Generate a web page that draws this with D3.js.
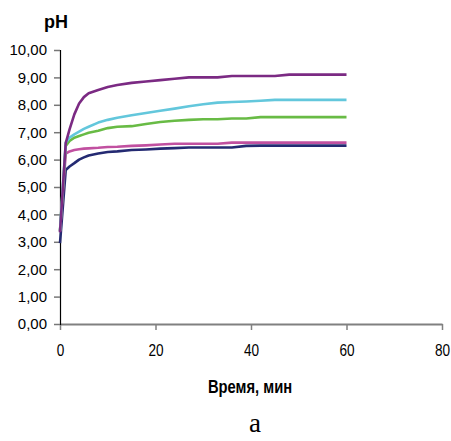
<!DOCTYPE html>
<html>
<head>
<meta charset="utf-8">
<script src="https://cdn.jsdelivr.net/npm/d3@7"></script>
<style>
    body { margin: 0; background: #fff; }
    .tick-y text { font-family: "Liberation Sans", Arial, sans-serif; font-size: 15px; fill: #000; }
    .tick-x text { font-family: "Liberation Sans", Arial, sans-serif; font-size: 17px; fill: #000; }
    .axis-title { font-family: "Liberation Sans", Arial, sans-serif; font-weight: bold; }
</style>
</head>
<body>
<div class="chart"></div>
<script>
/* Global Constants
============================================= */
const SVG_WIDTH = 451;
const SVG_HEIGHT = 441;

const textY = "pH";
const textX = "Время, мин";
const textCaption = "а";

// time, min
const TIME = [0, 1.2, 2, 3, 4, 5, 6, 8, 10, 12, 15, 18, 21, 24, 27, 30, 33, 36, 39, 42, 45, 48, 51, 54, 57, 60];

// pH values of each curve
const NAVY   = [2.95, 5.62, 5.75, 5.87, 6.0, 6.08, 6.15, 6.22, 6.28, 6.3, 6.35, 6.37, 6.4, 6.42, 6.44, 6.44, 6.44, 6.44, 6.5, 6.51, 6.51, 6.51, 6.51, 6.51, 6.51, 6.51];
const PINK   = [3.37, 6.22, 6.3, 6.35, 6.38, 6.4, 6.41, 6.43, 6.46, 6.47, 6.5, 6.52, 6.55, 6.58, 6.58, 6.58, 6.58, 6.62, 6.62, 6.62, 6.62, 6.62, 6.62, 6.62, 6.62, 6.62];
const GREEN  = [3.4, 6.5, 6.68, 6.8, 6.86, 6.92, 6.98, 7.05, 7.15, 7.2, 7.22, 7.3, 7.37, 7.42, 7.45, 7.47, 7.47, 7.5, 7.5, 7.55, 7.55, 7.55, 7.55, 7.55, 7.55, 7.55];
const CYAN   = [3.4, 6.62, 6.8, 6.92, 7.02, 7.12, 7.2, 7.35, 7.45, 7.53, 7.62, 7.7, 7.78, 7.86, 7.95, 8.02, 8.08, 8.1, 8.12, 8.15, 8.18, 8.18, 8.18, 8.18, 8.18, 8.18];
const PURPLE = [3.35, 6.6, 7.1, 7.65, 8.05, 8.28, 8.42, 8.54, 8.65, 8.72, 8.8, 8.85, 8.9, 8.95, 9.0, 9.0, 9.0, 9.05, 9.05, 9.05, 9.05, 9.1, 9.1, 9.1, 9.1, 9.1];

const SERIES = [NAVY, PINK, GREEN, CYAN, PURPLE];
const COLORS = ["#242a72", "#c150a0", "#68bb45", "#63c7dc", "#7b2a83"];

const X_TICKS = [0, 20, 40, 60, 80];
const Y_TICKS = [0, 1, 2, 3, 4, 5, 6, 7, 8, 9, 10];

/* Setup
============================================= */
var margin = {
    top: 50,
    bottom: 117,
    left: 60,
    right: 9
};

var width = SVG_WIDTH - margin.left - margin.right;
var height = SVG_HEIGHT - margin.top - margin.bottom;

var svg = d3.select(".chart")
    .append("svg")
    .attr("width", SVG_WIDTH)
    .attr("height", SVG_HEIGHT);

var chart = svg.append("g")
    .attr("transform", `translate(${margin.left}, ${margin.top})`);

var xLinearScale = d3.scaleLinear().domain([0, 80]).range([0, width]);
var yLinearScale = d3.scaleLinear().domain([0, 10]).range([height, 0]);

var commaFormat = d3.formatLocale({ decimal: ",", thousands: " ", grouping: [3], currency: ["", ""] }).format(".2f");

// y axis
var yAxis = chart.append("g")
    .attr("class", "tick-y")
    .call(d3.axisLeft(yLinearScale)
        .tickValues(Y_TICKS)
        .tickSize(6)
        .tickPadding(7)
        .tickFormat(commaFormat));

yAxis.select(".domain").attr("stroke", "#000").attr("stroke-width", 1.2);
yAxis.selectAll(".tick line").attr("stroke", "#777").attr("stroke-width", 1.5);

// x axis
var xAxis = chart.append("g")
    .attr("class", "tick-x")
    .attr("transform", `translate(0, ${height})`)
    .call(d3.axisBottom(xLinearScale)
        .tickValues(X_TICKS)
        .tickSize(6)
        .tickPadding(14)
        .tickSizeOuter(0));

xAxis.select(".domain").attr("stroke", "#808080").attr("stroke-width", 2);
xAxis.selectAll(".tick line").attr("stroke", "#808080").attr("stroke-width", 1.5);
xAxis.selectAll(".tick text").attr("transform", "scale(0.8, 1)");

// keep y axis line over x axis line
yAxis.raise();

/* Plot lines
============================================= */
var line = d3.line()
    .x(function(d, i) { return xLinearScale(TIME[i]); })
    .y(function(d) { return yLinearScale(d); });

chart.append("g")
    .selectAll("path")
    .data(SERIES)
    .enter()
    .append("path")
    .attr("d", line)
    .attr("fill", "none")
    .attr("stroke", function(d, i) { return COLORS[i]; })
    .attr("stroke-width", 2.6)
    .attr("stroke-linejoin", "round");

/* Titles
============================================= */
svg.append("text")
    .attr("class", "axis-title")
    .attr("x", 56)
    .attr("y", 28)
    .attr("text-anchor", "middle")
    .style("font-size", "18px")
    .text(textY);

svg.append("text")
    .attr("class", "axis-title")
    .attr("text-anchor", "middle")
    .attr("transform", "translate(250, 393) scale(0.82, 1)")
    .style("font-size", "18px")
    .text(textX);

svg.append("text")
    .attr("x", 255)
    .attr("y", 432)
    .attr("text-anchor", "middle")
    .style("font-family", "'Liberation Serif', 'Times New Roman', serif")
    .style("font-size", "27px")
    .text(textCaption);
</script>
</body>
</html>
